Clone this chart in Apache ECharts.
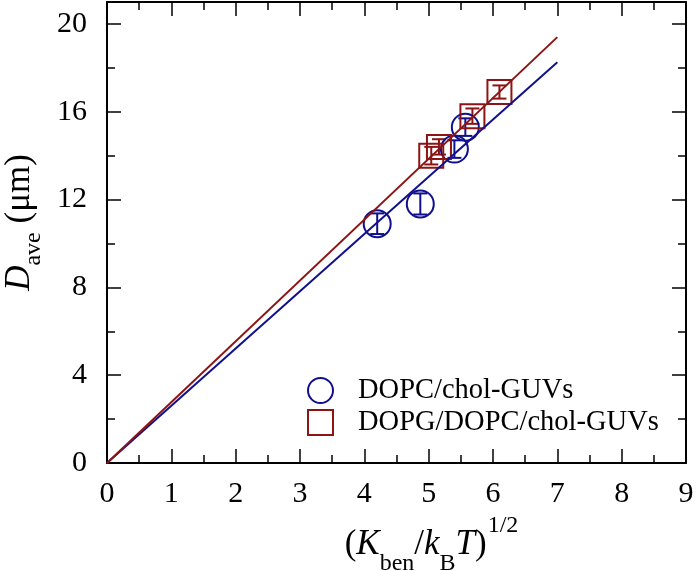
<!DOCTYPE html>
<html>
<head>
<meta charset="utf-8">
<script src="https://cdn.jsdelivr.net/npm/echarts@6/dist/echarts.min.js"></script>
<style>html,body{margin:0;padding:0;background:#fff}#c{width:700px;height:571px}</style>
</head>
<body>
<div id="c"></div>
<script>
// ---- data ----
const circleName = 'DOPC/chol-GUVs';
const circleX = [4.2, 4.87, 5.4, 5.57];
const circleY = [10.9, 11.8, 14.3, 15.3];
const circleErr = [0.47, 0.48, 0.4, 0.4];
const squareName = 'DOPG/DOPC/chol-GUVs';
const squareX = [5.04, 5.16, 5.68, 6.1];
const squareY = [14.0, 14.4, 15.8, 16.9];
const squareErr = [0.4, 0.35, 0.35, 0.3];
const fitX = [0, 7];
const fitBlueY = [0, 18.25];
const fitRedY = [0, 19.4];
const xTicks = [0, 1, 2, 3, 4, 5, 6, 7, 8, 9];
const yTicks = [0, 4, 8, 12, 16, 20];

const BLUE = '#10108f';
const RED = '#8c1414';
const FONT = 'Liberation Serif';

const zip3 = (a, b, c) => a.map((v, i) => [v, b[i], c[i]]);
const zip2 = (a, b) => a.map((v, i) => [v, b[i]]);

function errRender(color) {
  return function (params, api) {
    const x = api.value(0), y = api.value(1), e = api.value(2);
    const t = api.coord([x, y + e]);
    const b = api.coord([x, y - e]);
    const hw = 7;
    const st = { stroke: color, lineWidth: 2 };
    return {
      type: 'group',
      children: [
        { type: 'line', shape: { x1: t[0], y1: t[1], x2: b[0], y2: b[1] }, style: st },
        { type: 'line', shape: { x1: t[0] - hw, y1: t[1], x2: t[0] + hw, y2: t[1] }, style: st },
        { type: 'line', shape: { x1: b[0] - hw, y1: b[1], x2: b[0] + hw, y2: b[1] }, style: st }
      ]
    };
  };
}

const labelStyle = { color: '#000', fontFamily: FONT, fontSize: 30 };
const lineStyle = { color: '#000', width: 2 };

function xAx(pos, showLabel) {
  return {
    type: 'value', position: pos, min: xTicks[0], max: xTicks[xTicks.length - 1], interval: 1,
    axisLine: { show: true, onZero: false, lineStyle: lineStyle },
    axisTick: { show: true, inside: true, length: 14, lineStyle: { color: '#000', width: 1.5 } },
    minorTick: { show: true, splitNumber: 2, length: 8, lineStyle: { color: '#000', width: 1.5 } },
    splitLine: { show: false }, minorSplitLine: { show: false },
    axisLabel: Object.assign({ show: showLabel, margin: 16 }, labelStyle)
  };
}
function yAx(pos, interval, len, showLabel, showLine) {
  return {
    type: 'value', position: pos, min: 0, max: 21, interval: interval,
    axisLine: { show: showLine, onZero: false, lineStyle: lineStyle },
    axisTick: { show: true, inside: true, length: len, lineStyle: { color: '#000', width: 1.5 } },
    splitLine: { show: false },
    axisLabel: Object.assign({
      show: showLabel, margin: 20, showMaxLabel: false,
      formatter: v => (yTicks.indexOf(v) >= 0 ? String(v) : '')
    }, labelStyle)
  };
}

const yMain = yAx('left', 4, 14, true, true);
yMain.name = '{i|D}{sub|ave}{n| (μm)}';
yMain.nameLocation = 'middle';
yMain.nameRotate = 90;
yMain.nameGap = 67;
yMain.nameTextStyle = {
  padding: [0, 0, 0, 20],
  rich: {
    i: { fontFamily: FONT, fontStyle: 'italic', fontSize: 35, color: '#000', lineHeight: 38, verticalAlign: 'top' },
    sub: { fontFamily: FONT, fontSize: 24, color: '#000', lineHeight: 24, padding: [20, 0, 0, 0], verticalAlign: 'top' },
    n: { fontFamily: FONT, fontSize: 35, color: '#000', lineHeight: 38, verticalAlign: 'top' }
  }
};

const xMain = xAx('bottom', true);
xMain.name = '{n|(}{i|K}{sub|ben}{n|/}{i|k}{sub|B}{i|T}{n|)}{sup|1/2}';
xMain.nameLocation = 'middle';
xMain.nameGap = 47;
xMain.nameTextStyle = {
  padding: [0, 0, 0, 70],
  rich: {
    i: { fontFamily: FONT, fontStyle: 'italic', fontSize: 35, color: '#000', lineHeight: 40, padding: [13, 0, 0, 0], verticalAlign: 'top' },
    n: { fontFamily: FONT, fontSize: 35, color: '#000', lineHeight: 40, padding: [13, 0, 0, 0], verticalAlign: 'top' },
    sub: { fontFamily: FONT, fontSize: 24, color: '#000', lineHeight: 24, padding: [38, 0, 0, 0], verticalAlign: 'top' },
    sup: { fontFamily: FONT, fontSize: 24, color: '#000', lineHeight: 24, padding: [0, 0, 0, 1], verticalAlign: 'top' }
  }
};

const chart = echarts.init(document.getElementById('c'), null, { renderer: 'canvas' });
chart.setOption({
  animation: false,
  backgroundColor: '#fff',
  grid: { left: 107, right: 14, top: 2, bottom: 108, containLabel: false, outerBoundsMode: 'none' },
  xAxis: [xMain, xAx('top', false)],
  yAxis: [yMain, yAx('left', 2, 8, false, false), yAx('right', 4, 14, false, true), yAx('right', 2, 8, false, false)],
  legend: {
    orient: 'vertical', left: 302, top: 371, itemGap: 3,
    itemWidth: 25, itemHeight: 25,
    textStyle: { color: '#000', fontFamily: FONT, fontSize: 28.5, lineHeight: 26, padding: [0, 0, 0, 20] },
    data: [
      { name: circleName, icon: 'circle', itemStyle: { color: 'transparent', borderColor: BLUE, borderWidth: 2 } },
      { name: squareName, icon: 'rect', itemStyle: { color: 'transparent', borderColor: RED, borderWidth: 2 } }
    ]
  },
  series: [
    {
      name: circleName, type: 'scatter', data: zip2(circleX, circleY), symbol: 'circle', symbolSize: 27,
      itemStyle: { color: 'transparent', borderColor: BLUE, borderWidth: 2, opacity: 1 }, z: 3
    },
    {
      name: squareName, type: 'scatter', data: zip2(squareX, squareY), symbol: 'rect', symbolSize: 24,
      itemStyle: { color: 'transparent', borderColor: RED, borderWidth: 2, opacity: 1 }, z: 3
    },
    { type: 'custom', data: zip3(circleX, circleY, circleErr), renderItem: errRender(BLUE), encode: { x: 0, y: 1 }, z: 3, silent: true },
    { type: 'custom', data: zip3(squareX, squareY, squareErr), renderItem: errRender(RED), encode: { x: 0, y: 1 }, z: 3, silent: true },
    { type: 'line', data: zip2(fitX, fitBlueY), showSymbol: false, symbol: 'none', lineStyle: { color: BLUE, width: 2 }, z: 4, silent: true },
    { type: 'line', data: zip2(fitX, fitRedY), showSymbol: false, symbol: 'none', lineStyle: { color: RED, width: 2 }, z: 4, silent: true }
  ]
});
</script>
</body>
</html>
